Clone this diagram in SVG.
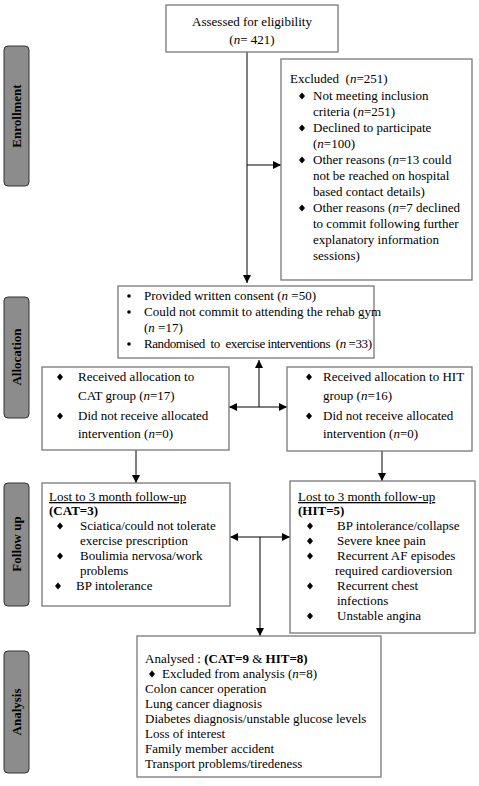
<svg xmlns="http://www.w3.org/2000/svg" width="479" height="786" viewBox="0 0 479 786">
<style>
text{font-family:"Liberation Serif","Times New Roman",serif;font-size:13px;fill:#000}
.box{fill:#fff;stroke:#777;stroke-width:1.3}
.side{fill:#8c8c8c;stroke:#333;stroke-width:1}
.sl{font-weight:bold;font-size:13px}
.b{font-weight:bold}
.ln{stroke:#000;stroke-width:1;fill:none}
</style>
<defs>
<marker id="ah" viewBox="0 0 10 10" refX="10" refY="5" markerWidth="8" markerHeight="8" markerUnits="userSpaceOnUse" orient="auto"><path d="M0,0L10,5L0,10z" fill="#000"/></marker>
<symbol id="dm" viewBox="-4 -4 8 8" overflow="visible"><path d="M0,-3.6L3,0L0,3.6L-3,0z" fill="#000"/></symbol>
</defs>
<g id="side-enrollment"><rect class="side" x="4" y="46" width="25" height="140" rx="4"/><text class="sl" transform="translate(21,116) rotate(-90)" text-anchor="middle">Enrollment</text></g>
<g id="side-allocation"><rect class="side" x="4" y="297" width="25" height="121" rx="4"/><text class="sl" transform="translate(21,357) rotate(-90)" text-anchor="middle">Allocation</text></g>
<g id="side-followup"><rect class="side" x="4" y="483" width="25" height="123" rx="4"/><text class="sl" transform="translate(21,544) rotate(-90)" text-anchor="middle">Follow up</text></g>
<g id="side-analysis"><rect class="side" x="4" y="651" width="25" height="122" rx="4"/><text class="sl" transform="translate(21,712) rotate(-90)" text-anchor="middle">Analysis</text></g>

<g id="connectors">
<path class="ln" d="M247,52V283" marker-end="url(#ah)"/>
<path class="ln" d="M247,165H281" marker-end="url(#ah)"/>
<path class="ln" d="M259,407V360" marker-end="url(#ah)"/>
<path class="ln" d="M259,407H229" marker-end="url(#ah)"/>
<path class="ln" d="M259,407H287" marker-end="url(#ah)"/>
<path class="ln" d="M136,450V483" marker-end="url(#ah)"/>
<path class="ln" d="M382,451V481" marker-end="url(#ah)"/>
<path class="ln" d="M260,537H230" marker-end="url(#ah)"/>
<path class="ln" d="M260,537H290" marker-end="url(#ah)"/>
<path class="ln" d="M260,537V636" marker-end="url(#ah)"/>
</g>

<g id="assessed">
<rect class="box" x="166" y="5" width="172" height="47"/>
<text x="252" y="26" text-anchor="middle">Assessed for eligibility</text>
<text x="252" y="44" text-anchor="middle">(<tspan font-style="italic">n</tspan>= 421)</text>
</g>

<g id="excluded">
<rect class="box" x="281" y="59" width="191" height="221"/>
<text x="290" y="83" xml:space="preserve">Excluded  (<tspan font-style="italic">n</tspan>=251)</text>
<use href="#dm" x="298" y="92" width="8" height="8"/>
<text x="313" y="100">Not meeting inclusion</text>
<text x="313" y="116">criteria (<tspan font-style="italic">n</tspan>=251)</text>
<use href="#dm" x="298" y="124" width="8" height="8"/>
<text x="313" y="132">Declined to participate</text>
<text x="313" y="148">(<tspan font-style="italic">n</tspan>=100)</text>
<use href="#dm" x="298" y="156" width="8" height="8"/>
<text x="313" y="164">Other reasons (<tspan font-style="italic">n</tspan>=13 could</text>
<text x="313" y="180">not be reached on hospital</text>
<text x="313" y="196">based contact details)</text>
<use href="#dm" x="298" y="204" width="8" height="8"/>
<text x="313" y="212">Other reasons (<tspan font-style="italic">n</tspan>=7 declined</text>
<text x="313" y="228">to commit following further</text>
<text x="313" y="244">explanatory information</text>
<text x="313" y="260">sessions)</text>
</g>

<g id="consent">
<rect class="box" x="118" y="286" width="256" height="72"/>
<circle cx="129" cy="296" r="1.8"/>
<text x="144" y="300">Provided written consent (<tspan font-style="italic">n</tspan> =50)</text>
<circle cx="129" cy="312" r="1.8"/>
<text x="144" y="316">Could not commit to attending the rehab gym</text>
<text x="144" y="332">(<tspan font-style="italic">n</tspan> =17)</text>
<circle cx="129" cy="344" r="1.8"/>
<text x="144" y="348" xml:space="preserve" textLength="228" lengthAdjust="spacing">Randomised  to  exercise interventions  (<tspan font-style="italic">n</tspan> =33)</text>
</g>

<g id="cat-alloc">
<rect class="box" x="42" y="367" width="187" height="83"/>
<use href="#dm" x="56" y="373" width="8" height="8"/>
<text x="78" y="381">Received allocation to</text>
<text x="78" y="400">CAT group (<tspan font-style="italic">n</tspan>=17)</text>
<use href="#dm" x="56" y="412" width="8" height="8"/>
<text x="78" y="420">Did not receive allocated</text>
<text x="78" y="438">intervention (<tspan font-style="italic">n</tspan>=0)</text>
</g>

<g id="hit-alloc">
<rect class="box" x="287" y="367" width="185" height="84"/>
<use href="#dm" x="305" y="373" width="8" height="8"/>
<text x="323" y="381">Received allocation to HIT</text>
<text x="323" y="400">group (<tspan font-style="italic">n</tspan>=16)</text>
<use href="#dm" x="305" y="412" width="8" height="8"/>
<text x="323" y="420">Did not receive allocated</text>
<text x="323" y="438">intervention (<tspan font-style="italic">n</tspan>=0)</text>
</g>

<g id="cat-followup">
<rect class="box" x="42" y="483" width="188" height="123"/>
<text x="49" y="501" text-decoration="underline">Lost to 3 month follow-up</text>
<text x="49" y="515" class="b">(CAT=3)</text>
<use href="#dm" x="56" y="522" width="8" height="8"/>
<text x="80" y="530">Sciatica/could not tolerate</text>
<text x="80" y="545">exercise prescription</text>
<use href="#dm" x="56" y="552" width="8" height="8"/>
<text x="80" y="560">Boulimia nervosa/work</text>
<text x="80" y="575">problems</text>
<use href="#dm" x="54" y="582" width="8" height="8"/>
<text x="76" y="590">BP intolerance</text>
</g>

<g id="hit-followup">
<rect class="box" x="290" y="481" width="185" height="152"/>
<text x="298" y="501" text-decoration="underline">Lost to 3 month follow-up</text>
<text x="298" y="515" class="b">(HIT=5)</text>
<use href="#dm" x="306" y="522" width="8" height="8"/>
<text x="337" y="530">BP intolerance/collapse</text>
<use href="#dm" x="306" y="537" width="8" height="8"/>
<text x="337" y="545">Severe knee pain</text>
<use href="#dm" x="306" y="552" width="8" height="8"/>
<text x="337" y="560">Recurrent AF episodes</text>
<text x="335" y="575">required cardioversion</text>
<use href="#dm" x="306" y="582" width="8" height="8"/>
<text x="337" y="590">Recurrent chest</text>
<text x="337" y="605">infections</text>
<use href="#dm" x="306" y="612" width="8" height="8"/>
<text x="337" y="620">Unstable angina</text>
</g>

<g id="analysis">
<rect class="box" x="137" y="636" width="244" height="141"/>
<text x="145" y="663">Analysed : <tspan class="b">(CAT=9 </tspan>&amp;<tspan class="b"> HIT=8)</tspan></text>
<use href="#dm" x="148" y="670" width="8" height="8"/>
<text x="162" y="678">Excluded from analysis (<tspan font-style="italic">n</tspan>=8)</text>
<text x="145" y="693">Colon cancer operation</text>
<text x="145" y="708">Lung cancer diagnosis</text>
<text x="145" y="723">Diabetes diagnosis/unstable glucose levels</text>
<text x="145" y="738">Loss of interest</text>
<text x="145" y="753">Family member accident</text>
<text x="145" y="768">Transport problems/tiredeness</text>
</g>
</svg>
